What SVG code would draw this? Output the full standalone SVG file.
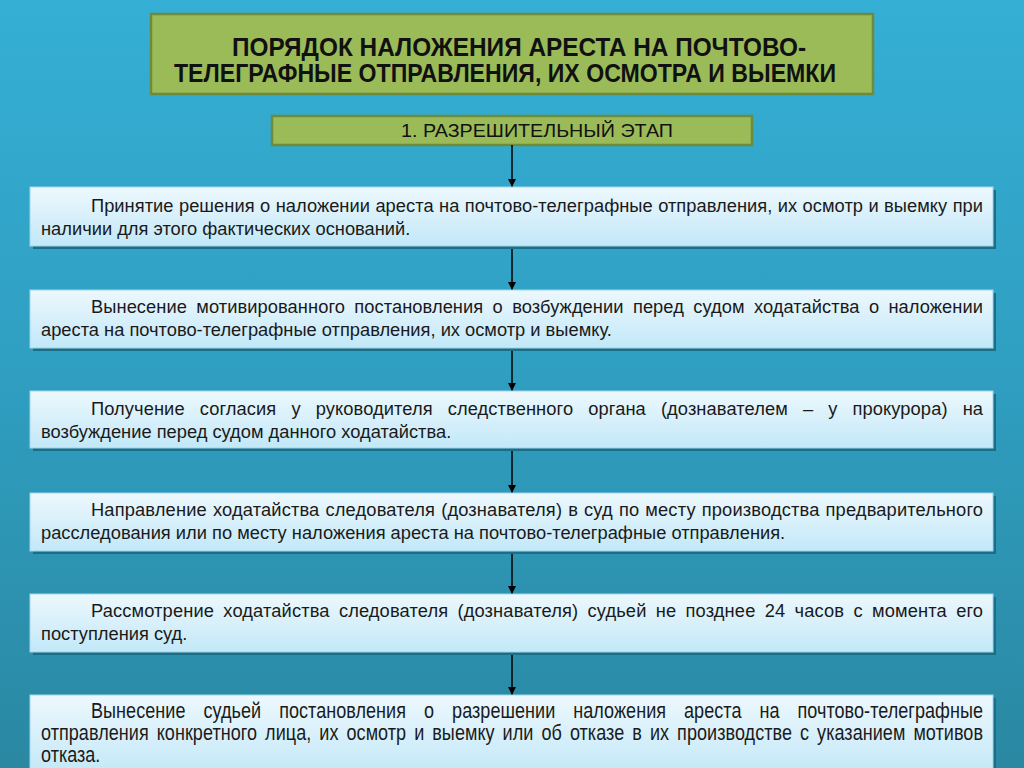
<svg xmlns="http://www.w3.org/2000/svg" width="1024" height="768" viewBox="0 0 1024 768">
<defs>
<linearGradient id="bg" x1="0" y1="0" x2="0" y2="1">
<stop offset="0" stop-color="#35afd5"/>
<stop offset="0.5" stop-color="#2f9ec0"/>
<stop offset="1" stop-color="#2a88a2"/>
</linearGradient>
<linearGradient id="boxg" x1="0" y1="0" x2="0" y2="1">
<stop offset="0" stop-color="#edf8fd"/>
<stop offset="1" stop-color="#c2e8f8"/>
</linearGradient>
<marker id="arr" viewBox="0 0 10 10" refX="10" refY="5" markerWidth="8" markerHeight="8" markerUnits="userSpaceOnUse" orient="auto">
<path d="M0,0 L10,5 L0,10 Z" fill="#000"/>
</marker>
<style>
.hdr{fill:#9bbb59;stroke:#6e8a3b;stroke-width:2.5}
.title{font-family:"Liberation Sans",Arial,sans-serif;font-weight:bold;font-size:25px;fill:#111}
.stage{font-family:"Liberation Sans",Arial,sans-serif;font-size:18px;fill:#111}
.box{fill:url(#boxg);stroke:#9fd6ee;stroke-width:1}
.shadow{fill:#1c6e86}
.t{font-family:"Liberation Sans",Arial,sans-serif;font-size:18.3px;fill:#1a1a1a}
.tn{font-family:"Liberation Sans",Arial,sans-serif;font-size:22px;fill:#1a1a1a}
.conn{stroke:#000;stroke-width:1.5;fill:none;marker-end:url(#arr)}
</style>
</defs>
<rect width="1024" height="768" fill="url(#bg)"/>

<g id="title">
<rect class="hdr" x="151" y="14" width="722" height="80"/>
<text class="title" x="232" y="56" textLength="574" lengthAdjust="spacingAndGlyphs">ПОРЯДОК НАЛОЖЕНИЯ АРЕСТА НА ПОЧТОВО-</text>
<text class="title" x="174" y="82" textLength="662" lengthAdjust="spacingAndGlyphs">ТЕЛЕГРАФНЫЕ ОТПРАВЛЕНИЯ, ИХ ОСМОТРА И ВЫЕМКИ</text>
</g>

<g id="stage">
<rect class="hdr" x="272" y="116" width="480" height="29"/>
<text class="stage" x="401" y="137" textLength="272" lengthAdjust="spacingAndGlyphs">1. РАЗРЕШИТЕЛЬНЫЙ ЭТАП</text>
</g>

<g id="connectors">
<line class="conn" x1="512" y1="145" x2="512" y2="187"/>
<line class="conn" x1="512" y1="247" x2="512" y2="290"/>
<line class="conn" x1="512" y1="349" x2="512" y2="391"/>
<line class="conn" x1="512" y1="449" x2="512" y2="493"/>
<line class="conn" x1="512" y1="552" x2="512" y2="594"/>
<line class="conn" x1="512" y1="653" x2="512" y2="695"/>
</g>

<g id="step1">
<rect class="shadow" x="33" y="190" width="963" height="59"/>
<rect class="box" x="30" y="187" width="963" height="59"/>
<text class="t" x="91" y="212" word-spacing="0.3" textLength="892" lengthAdjust="spacing">Принятие решения о наложении ареста на почтово-телеграфные отправления, их осмотр и выемку при</text>
<text class="t" x="41" y="235">наличии для этого фактических оснований.</text>
</g>

<g id="step2">
<rect class="shadow" x="33" y="293" width="963" height="58"/>
<rect class="box" x="30" y="290" width="963" height="58"/>
<text class="t" x="91" y="313" word-spacing="4.2" textLength="892" lengthAdjust="spacing">Вынесение мотивированного постановления о возбуждении перед судом ходатайства о наложении</text>
<text class="t" x="41" y="336">ареста на почтово-телеграфные отправления, их осмотр и выемку.</text>
</g>

<g id="step3">
<rect class="shadow" x="33" y="394" width="963" height="57"/>
<rect class="box" x="30" y="391" width="963" height="57"/>
<text class="t" x="91" y="415" word-spacing="9.9" textLength="892" lengthAdjust="spacing">Получение согласия у руководителя следственного органа (дознавателем – у прокурора) на</text>
<text class="t" x="41" y="438">возбуждение перед судом данного ходатайства.</text>
</g>

<g id="step4">
<rect class="shadow" x="33" y="496" width="963" height="58"/>
<rect class="box" x="30" y="493" width="963" height="58"/>
<text class="t" x="91" y="516" word-spacing="0.8" textLength="892" lengthAdjust="spacing">Направление ходатайства следователя (дознавателя) в суд по месту производства предварительного</text>
<text class="t" x="41" y="539">расследования или по месту наложения ареста на почтово-телеграфные отправления.</text>
</g>

<g id="step5">
<rect class="shadow" x="33" y="597" width="963" height="58"/>
<rect class="box" x="30" y="594" width="963" height="58"/>
<text class="t" x="91" y="617" word-spacing="4.1" textLength="892" lengthAdjust="spacing">Рассмотрение ходатайства следователя (дознавателя) судьей не позднее 24 часов с момента его</text>
<text class="t" x="41" y="640">поступления суд.</text>
</g>

<g id="step6">
<rect class="shadow" x="33" y="698" width="963" height="80"/>
<rect class="box" x="30" y="695" width="963" height="80"/>
<g transform="scale(0.82,1)">
<text class="tn" x="111" y="718" word-spacing="15.8" textLength="1087.8" lengthAdjust="spacing">Вынесение судьей постановления о разрешении наложения ареста на почтово-телеграфные</text>
<text class="tn" x="50" y="740" word-spacing="3.6" textLength="1148.8" lengthAdjust="spacing">отправления конкретного лица, их осмотр и выемку или об отказе в их производстве с указанием мотивов</text>
<text class="tn" x="50" y="762">отказа.</text>
</g>
</g>
</svg>
